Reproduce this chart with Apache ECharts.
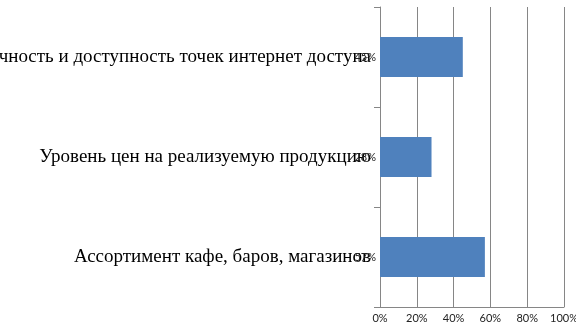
<!DOCTYPE html>
<html><head><meta charset="utf-8">
<script src="https://cdn.jsdelivr.net/npm/echarts@6/dist/echarts.min.js"></script>
<style>html,body{margin:0;padding:0;background:#fff}#c{width:576px;height:336px}</style>
</head><body><div id="c"></div>
<script>
var categories = ["Достаточность и доступность точек интернет доступа", "Уровень цен на реализуемую продукцию", "Ассортимент кафе, баров, магазинов"];
var values = [0.45, 0.28, 0.57];
var tickMin = 0, tickMax = 1, tickStep = 0.2;

var chart = echarts.init(document.getElementById('c'), null, {renderer: 'canvas'});
chart.setOption({
  animation: false,
  grid: {left: 380, right: 12, top: 7, bottom: 29, containLabel: false, outerBoundsMode: 'none'},
  xAxis: {
    type: 'value', min: tickMin, max: tickMax, interval: tickStep,
    axisLine: {show: true, lineStyle: {color: '#868686', width: 1}},
    axisTick: {show: false},
    splitLine: {show: true, lineStyle: {color: '#868686', width: 1}},
    axisLabel: {formatter: function(v){return Math.round(v*100)+'%';}, fontFamily: 'Lato', fontSize: 11, color: '#222', margin: 6}
  },
  yAxis: {
    type: 'category', data: categories, inverse: true,
    axisLine: {show: true, lineStyle: {color: '#868686', width: 1}},
    axisTick: {show: true, length: 6, lineStyle: {color: '#868686'}},
    axisLabel: {fontFamily: 'Liberation Serif', fontSize: 19, color: '#000', margin: 9}
  },
  series: [{
    type: 'bar', data: values, barWidth: 40,
    itemStyle: {color: '#4F81BD'},
    label: {show: true, position: 'left', distance: 4, formatter: function(p){return Math.round(p.value*100)+'%';}, fontFamily: 'Lato', fontSize: 11, color: '#222'}
  }]
});
</script></body></html>
